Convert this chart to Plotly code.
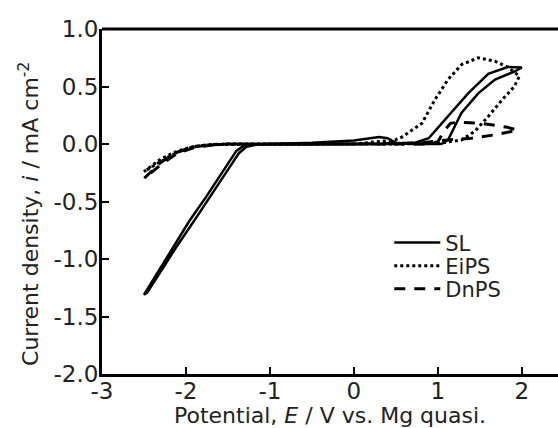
import plotly.graph_objects as go

# cyclic voltammograms, potential (V vs. Mg quasi) and current density (mA cm-2)
sl_E = [0.0, -0.5, -0.95, -1.15, -1.28, -1.37, -1.47, -1.62, -1.85, -2.1, -2.46, -2.5,
        -2.2, -1.96, -1.76, -1.6, -1.48, -1.40, -1.32, -1.2, -1.0, -0.5, 0.0, 0.3,
        0.4, 0.5, 0.7, 1.0, 1.04, 1.12, 1.28, 1.48, 1.68, 1.91, 2.0,
        1.83, 1.6, 1.36, 1.12, 0.89, 0.72, 0.5, 0.0]
sl_i = [0.0, 0.0, 0.0, -0.004, -0.025, -0.08, -0.19, -0.36, -0.61, -0.88, -1.29, -1.31,
        -0.96, -0.67, -0.46, -0.28, -0.14, -0.06, -0.02, -0.004, 0.0, 0.01, 0.03, 0.06,
        0.05, 0.01, 0.0, 0.0, 0.0, 0.035, 0.27, 0.44, 0.56, 0.63, 0.665,
        0.67, 0.61, 0.44, 0.24, 0.05, 0.01, 0.0, 0.0]

eips_E = [0.0, -0.5, -1.0, -1.5, -1.7, -1.9, -2.1, -2.3, -2.5,
          -2.3, -2.1, -1.9, -1.7, -1.5, -1.0, 0.0, 0.49, 0.57, 0.81, 0.96,
          1.12, 1.28, 1.48, 1.68, 1.83, 1.97, 1.91, 1.76, 1.6, 1.44, 1.28,
          1.0, 0.5, 0.0]
eips_i = [0.0, 0.0, 0.0, 0.0, -0.005, -0.02, -0.07, -0.15, -0.24,
          -0.13, -0.06, -0.02, -0.005, 0.0, 0.0, 0.0, 0.035, 0.06, 0.18, 0.38,
          0.56, 0.69, 0.75, 0.72, 0.67, 0.59, 0.50, 0.38, 0.24, 0.11, 0.035,
          0.005, 0.0, 0.0]

dnps_E = [0.0, -0.5, -1.0, -1.5, -1.7, -1.9, -2.1, -2.3, -2.5,
          -2.3, -2.1, -1.9, -1.7, -1.5, -1.0, 0.0, 0.5, 0.9, 1.0, 1.08,
          1.15, 1.24, 1.52, 1.83, 1.95, 1.68, 1.4, 1.12, 0.8, 0.0]
dnps_i = [0.0, 0.0, 0.0, 0.0, -0.01, -0.03, -0.08, -0.18, -0.30,
          -0.16, -0.07, -0.025, -0.008, 0.0, 0.0, 0.0, 0.0, 0.0, 0.02, 0.12,
          0.18, 0.19, 0.18, 0.145, 0.12, 0.08, 0.05, 0.035, 0.01, 0.0]

x_ticks = [-3, -2, -1, 0, 1, 2]
y_ticks = [1.0, 0.5, 0.0, -0.5, -1.0, -1.5, -2.0]

fnt = "DejaVu Sans, Verdana, sans-serif"

fig = go.Figure()
fig.add_trace(go.Scatter(x=sl_E, y=sl_i, mode="lines", name="SL", legend="legend",
                         line=dict(color="black", width=2.5)))
fig.add_trace(go.Scatter(x=eips_E, y=eips_i, mode="lines", name="EiPS", legend="legend2",
                         line=dict(color="black", width=3, dash="dot")))
fig.add_trace(go.Scatter(x=dnps_E, y=dnps_i, mode="lines", name="DnPS", legend="legend3",
                         line=dict(color="black", width=3, dash="11px,9px")))

# one small legend per entry so the rows sit close together like the original
leg = dict(x=0.63, xanchor="left", yanchor="middle", bgcolor="rgba(0,0,0,0)",
           font=dict(size=21), itemwidth=46)

fig.update_layout(
    width=558, height=428,
    margin=dict(l=102, r=0, t=29, b=54),
    paper_bgcolor="white", plot_bgcolor="white",
    font=dict(family=fnt, size=20, color="#222"),
    showlegend=True,
    legend=dict(leg, y=0.380),
    legend2=dict(leg, y=0.313),
    legend3=dict(leg, y=0.246),
)
# top frame line only (the original is cut off on the right)
fig.add_shape(type="line", xref="paper", yref="paper", x0=0, x1=1, y0=1, y1=1,
              line=dict(color="black", width=3))
# y title as an annotation: it sits a little below the plot centre in the original
fig.add_annotation(text="Current density, <i>i</i> / mA cm<sup>-2</sup>",
                   xref="paper", yref="paper", x=-0.160, y=0.464,
                   xanchor="center", yanchor="middle", textangle=-90,
                   showarrow=False, font=dict(size=22))
fig.update_xaxes(
    range=[-3, 2.43], tickvals=x_ticks, ticktext=[str(v) for v in x_ticks],
    showgrid=False, zeroline=False, showline=True, linecolor="black",
    linewidth=3, ticks="inside", ticklen=7, tickwidth=2,
    tickcolor="black", tickfont=dict(size=23), ticklabelstandoff=-6,
    title=dict(text="Potential, <i>E</i> / V vs. Mg quasi.", standoff=5,
               font=dict(size=22)),
)
fig.update_yaxes(
    range=[-2.0, 1.0], tickvals=y_ticks, ticktext=[f"{v:.1f}" for v in y_ticks],
    showgrid=False, zeroline=False, showline=True, linecolor="black",
    linewidth=3, ticks="inside", ticklen=7, tickwidth=2, tickcolor="black",
    tickfont=dict(size=23), ticklabelstandoff=-4,
)

fig.write_html("out.html", config={"displayModeBar": False},
               post_script="document.body.style.margin='0';"
                           "document.body.style.overflow='hidden';")
